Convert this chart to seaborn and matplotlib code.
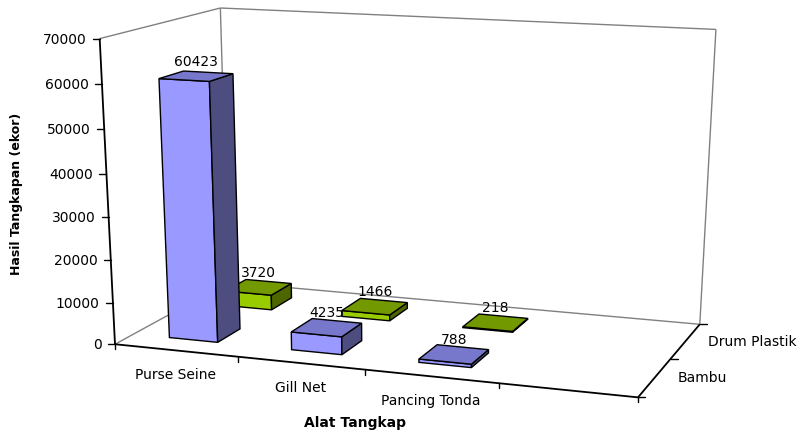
import numpy as np
import matplotlib
matplotlib.use("Agg")
import matplotlib.pyplot as plt
from matplotlib.patches import Polygon
import seaborn as sns

# ---- data ---------------------------------------------------------------
categories = ["Purse Seine", "Gill Net", "Pancing Tonda"]
series_names = ["Bambu", "Drum Plastik"]          # front row, back row
bambu = [60423, 4235, 788]
drum_plastik = [3720, 1466, 218]
y_ticks = [0, 10000, 20000, 30000, 40000, 50000, 60000, 70000]
y_max = 70000

# ---- style --------------------------------------------------------------
sns.set_theme(style="white")
plt.rcParams["font.family"] = ["DejaVu Sans"]
plt.rcParams["text.color"] = "black"

face_colors = {
    "Bambu": {"front": "#9999ff", "top": "#7777cc", "side": "#4d4d80"},
    "Drum Plastik": {"front": "#99cc00", "top": "#739900", "side": "#4d6600"},
}
wall_color = "#808080"

W, H = 802, 435
fig = plt.figure(figsize=(W / 100, H / 100), dpi=100)
ax = fig.add_axes([0, 0, 1, 1])
ax.set_xlim(0, W)
ax.set_ylim(H, 0)
ax.axis("off")

# ---- perspective camera for the 3-D plot box -----------------------------
# box coordinates: x = category slot, y = series row, z = value / y_max
# the category axis keeps one empty slot after the last category
n_slots = len(categories) + 1
n_ser = len(series_names)
calib_box = np.array([
    [0, 0, 0], [1, 0, 0], [2, 0, 0], [3, 0, 0], [4, 0, 0],
    [4, 1, 0], [4, 2, 0],
    [0, 0, 1], [0, 2, 1], [4, 2, 1],
], dtype=float)
calib_canvas = np.array([
    [116, 344], [237, 359], [364, 372], [499, 385], [638, 397],
    [671, 359], [700, 325],
    [100, 39], [220, 9], [716, 31],
], dtype=float)

# normalise for a well conditioned linear solve
mu, sc = calib_canvas.mean(0), calib_canvas.std()
uvn = (calib_canvas - mu) / sc
rows = []
for (X, Y, Z), (u, v) in zip(calib_box, uvn):
    rows.append([X, Y, Z, 1, 0, 0, 0, 0, -u * X, -u * Y, -u * Z, -u])
    rows.append([0, 0, 0, 0, X, Y, Z, 1, -v * X, -v * Y, -v * Z, -v])
_, _, vt = np.linalg.svd(np.array(rows))
Pn = vt[-1].reshape(3, 4)
T = np.array([[sc, 0, mu[0]], [0, sc, mu[1]], [0, 0, 1]])
P = T @ Pn

# camera centre, used to decide which bar faces are visible
_, _, vt = np.linalg.svd(P)
cam = vt[-1][:3] / vt[-1][3]


def proj(x, y, z):
    h = P @ np.array([x, y, z, 1.0])
    return h[0] / h[2], h[1] / h[2]


def line3d(a, b, **kw):
    (u0, v0), (u1, v1) = proj(*a), proj(*b)
    ax.plot([u0, u1], [v0, v1], solid_capstyle="butt", **kw)


# ---- walls (grey) ---------------------------------------------------------
wall_kw = dict(color=wall_color, lw=1.0, zorder=1)
line3d((0, 0, 1), (0, n_ser, 1), **wall_kw)
line3d((0, n_ser, 0), (0, n_ser, 1), **wall_kw)
line3d((0, n_ser, 1), (n_slots, n_ser, 1), **wall_kw)
line3d((n_slots, n_ser, 0), (n_slots, n_ser, 1), **wall_kw)
line3d((0, n_ser, 0), (n_slots, n_ser, 0), **wall_kw)
line3d((0, 0, 0), (0, n_ser, 0), **wall_kw)

# ---- bars -----------------------------------------------------------------
bar_w, bar_d = 0.4, 0.4
values_by_series = {"Bambu": bambu, "Drum Plastik": drum_plastik}


def face(pts, color, z):
    ax.add_patch(Polygon([proj(*q) for q in pts], closed=True, facecolor=color,
                         edgecolor="black", lw=1.0, joinstyle="miter", zorder=z))


# back row first so the front row covers it
for r in reversed(range(n_ser)):
    name = series_names[r]
    cols = face_colors[name]
    for i, val in enumerate(values_by_series[name]):
        x0, x1 = i + (1 - bar_w) / 2, i + (1 + bar_w) / 2
        y0, y1 = r + (1 - bar_d) / 2, r + (1 + bar_d) / 2
        zt = val / y_max
        zo = 5 + (n_ser - r) * 10 + i
        face([(x0, y0, 0), (x1, y0, 0), (x1, y0, zt), (x0, y0, zt)], cols["front"], zo)
        xs = x1 if cam[0] > x1 else x0
        face([(xs, y0, 0), (xs, y1, 0), (xs, y1, zt), (xs, y0, zt)], cols["side"], zo)
        face([(x0, y0, zt), (x1, y0, zt), (x1, y1, zt), (x0, y1, zt)], cols["top"], zo)
        u, v = proj(i + 0.5, r + 0.5, zt)
        ax.annotate(f"{val}", (u, v), xytext=(0, 6), textcoords="offset points",
                    ha="center", va="bottom", fontsize=10, color="black", zorder=60)

# ---- axes (black) ---------------------------------------------------------
axis_kw = dict(color="black", lw=1.3, zorder=50)
line3d((0, 0, 0), (0, 0, 1), **axis_kw)
line3d((0, 0, 0), (n_slots, 0, 0), **axis_kw)
line3d((n_slots, 0, 0), (n_slots, n_ser, 0), **axis_kw)

# value axis ticks and labels
for t in y_ticks:
    u, v = proj(0, 0, t / y_max)
    ax.plot([u - 7, u], [v, v], color="black", lw=1.0, zorder=50)
    ax.annotate(f"{t}", (u, v), xytext=(-9.5, 0), textcoords="offset points",
                ha="right", va="center", fontsize=10, color="black")

# category axis ticks and labels
for i in range(n_slots + 1):
    u, v = proj(i, 0, 0)
    ax.plot([u, u], [v, v + 5], color="black", lw=1.0, zorder=50)
for i, name in enumerate(categories):
    u, v = proj(i + 0.5, 0, 0)
    ax.annotate(name, (u, v), xytext=(0, -17), textcoords="offset points",
                ha="center", va="center", fontsize=10, color="black")

# series (depth) axis ticks and labels
for r in range(n_ser + 1):
    u, v = proj(n_slots, r, 0)
    ax.plot([u, u + 7], [v, v], color="black", lw=1.0, zorder=50)
for r, name in enumerate(series_names):
    u, v = proj(n_slots, r + 0.5, 0)
    ax.annotate(name, (u, v), xytext=(16, 0), textcoords="offset points",
                ha="left", va="center", fontsize=10, color="black")

# axis titles
ax.text(355, 423, "Alat Tangkap", ha="center", va="center",
        fontsize=10, fontweight="bold", color="black")
ax.text(17, 194, "Hasil Tangkapan (ekor)", ha="center", va="center",
        rotation=90, fontsize=9, fontweight="bold", color="black")

fig.savefig("out.png", dpi=100, facecolor="white")
